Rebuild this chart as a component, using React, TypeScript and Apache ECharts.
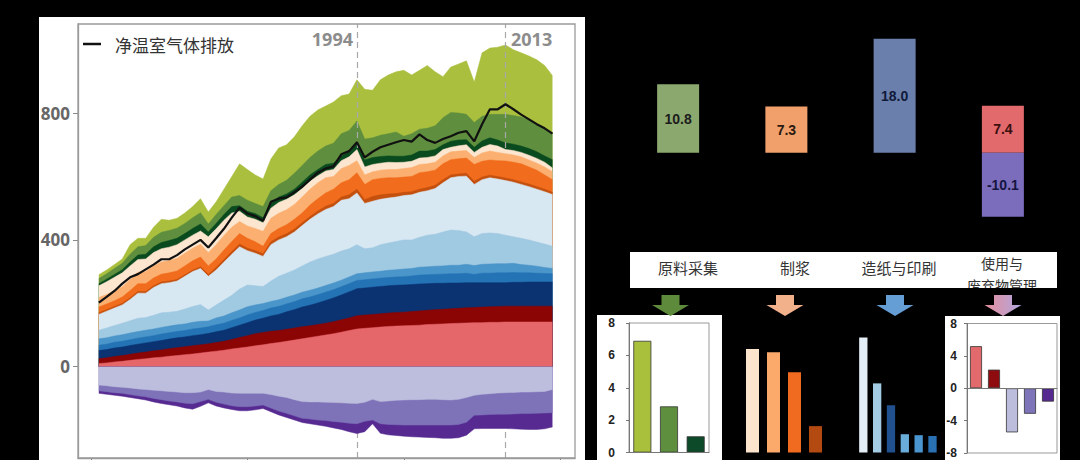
import React, { useEffect, useRef } from "react";
import * as echarts from "echarts";

const years = [1961,1962,1963,1964,1965,1966,1967,1968,1969,1970,1971,1972,1973,1974,1975,1976,1977,1978,1979,1980,1981,1982,1983,1984,1985,1986,1987,1988,1989,1990,1991,1992,1993,1994,1995,1996,1997,1998,1999,2000,2001,2002,2003,2004,2005,2006,2007,2008,2009,2010,2011,2012,2013,2014,2015,2016,2017,2018,2019];

// cumulative upper edge of each positive layer (bottom -> top)
const topSalmon = [10,12,15,17,20,23,25,28,30,33, 35,38,40,43,46,49,52,56,59,62, 66,69,73,76,80,84,88,92,96,100, 104,109,114,119,121,123,125,127,128,129, 130,131,133,134,135,136,137,138,139,139, 140,140,141,141,141,141,141,141,141];
const topDarkRed = [25,28,32,35,39,43,46,50,53,57, 60,63,66,69,72,76,80,86,92,98, 104,108,112,114,118,122,126,129,133,137, 142,148,154,161,163,165,167,169,171,172, 174,176,178,180,181,183,184,186,187,188, 189,190,191,191,191,191,191,191,191];
const topNavy = [51,54,59,62,67,71,75,79,83,87, 91,94,98,101,105,110,115,123,131,139, 147,153,160,165,173,180,188,194,201,209, 217,226,236,246,248,251,253,255,257,258, 259,261,262,263,263,264,264,265,265,265, 265,265,265,266,266,267,267,267,267];
const topBlue = [68,71,77,80,85,90,94,98,103,107, 111,114,119,122,126,132,137,146,154,163, 171,177,185,190,198,205,214,220,227,235, 243,252,262,272,274,277,279,281,283,284, 286,289,290,291,292,293,293,295,291,295, 295,296,296,297,296,296,295,294,293];
const topMidBlue = [88,91,97,101,106,111,115,119,124,128, 132,135,140,143,144,154,160,170,179,189, 195,199,206,211,219,226,235,241,248,256, 264,273,283,293,296,299,301,304,306,308, 310,314,315,317,318,320,320,323,319,323, 324,325,325,326,322,320,317,313,310];
const topLightBlue = [115,122,130,137,145,153,155,162,170,172, 175,182,190,196,179,195,210,225,245,258, 255,253,270,285,295,305,318,330,340,348, 355,365,372,385,372,375,385,390,395,400, 400,408,415,418,425,431,430,425,410,420, 422,420,415,410,405,400,393,387,380];
const topPaleBlue = [165,175,185,195,212,232,232,250,262,265, 270,285,300,310,285,305,330,355,378,366, 358,348,385,400,410,425,445,465,482,496, 505,525,530,548,515,522,528,532,535,540, 542,550,555,562,580,596,600,601,575,590, 596,592,587,582,575,568,560,552,543];
const topDarkOrange = [170,180,190,200,217,237,237,255,267,270, 275,290,305,315,291,313,338,363,387,374, 366,356,394,409,419,434,454,474,491,506, 515,535,542,560,527,537,542,545,546,550, 552,560,565,572,590,605,608,610,585,598, 604,600,595,590,583,576,568,560,550];
const topOrange = [188,198,208,220,240,262,262,280,292,296, 302,318,334,346,318,340,368,395,420,405, 394,380,420,436,448,465,485,510,530,548, 560,580,590,612,575,590,594,596,596,598, 600,612,615,620,640,653,656,658,638,648, 652,650,649,645,640,630,620,605,590];
const topLightOrange = [218,228,240,252,275,298,300,318,330,335, 342,358,374,386,360,385,414,440,458,444, 436,427,468,484,495,512,535,560,580,596, 600,625,635,650,605,615,620,622,622,625, 628,638,640,645,665,678,680,682,660,674, 680,676,672,668,662,652,642,630,615];
const topPeach = [255,268,282,296,318,338,340,360,372,377, 385,400,415,428,410,435,462,485,490,472, 465,454,500,518,528,542,562,585,602,617, 622,650,662,685,630,638,642,645,644,645, 648,658,660,665,685,692,697,700,676,692, 701,696,685,682,676,667,657,645,627];
const topDarkGreen = [262,276,291,306,330,352,355,378,392,398, 405,420,436,450,425,452,480,505,508,490, 483,470,518,535,545,560,582,605,622,638, 642,665,678,705,652,660,663,665,664,664, 668,680,680,685,700,711,715,716,692,712, 722,715,706,702,696,688,678,665,653];
const topGreen = [278,293,310,326,355,378,382,408,424,430, 437,452,470,486,450,480,508,535,540,525, 515,505,555,575,588,610,635,660,680,696, 705,735,745,775,718,722,730,735,740,727, 735,749,752,760,785,802,800,796,770,790, 796,796,796,792,788,778,765,752,738];
const topOlive = [290,305,322,340,385,405,405,440,465,462, 468,485,505,530,488,520,560,600,640,622, 605,592,655,690,700,725,760,790,810,822, 835,855,860,905,875,872,905,920,930,935, 920,935,950,930,915,945,955,965,898,990, 1005,1008,1015,1000,990,980,968,950,918];

// cumulative lower edge of each negative layer (0 -> down)
const lowLavender = [-58,-60,-63,-65,-67,-70,-72,-74,-76,-78, -80,-82,-82,-80,-72,-78,-80,-83,-84,-84, -84,-84,-88,-93,-97,-104,-110,-111,-111,-112, -113,-114,-115,-116,-112,-103,-110,-108,-106,-105, -104,-104,-103,-103,-104,-105,-103,-97,-90,-87, -85,-83,-82,-81,-80,-80,-79,-78,-72];
const lowPurple = [-76,-79,-82,-84,-88,-92,-95,-100,-104,-108, -111,-115,-117,-110,-103,-112,-118,-123,-126,-126, -124,-121,-130,-140,-147,-155,-163,-165,-168,-170, -173,-175,-178,-180,-172,-168,-180,-182,-183,-184, -184,-184,-184,-184,-184,-184,-182,-175,-153,-152, -151,-150,-150,-149,-148,-148,-147,-146,-145];
const lowDarkPurple = [-84,-87,-90,-93,-97,-101,-105,-111,-116,-120, -124,-130,-134,-125,-114,-124,-130,-135,-139,-139, -136,-132,-142,-152,-160,-168,-176,-180,-184,-188, -193,-198,-205,-211,-205,-180,-210,-215,-217,-219, -221,-222,-223,-224,-226,-226,-224,-216,-196,-195, -195,-195,-195,-196,-197,-198,-198,-196,-190];

const netEmission = [202,220,239,262,282,292,307,322,339,339, 352,370,385,400,376,405,435,470,502,483, 475,460,520,530,534,550,568,590,612,625, 632,670,680,708,660,678,692,700,708,715, 710,733,715,706,718,727,738,743,711,765, 812,812,828,812,795,780,765,752,735];

const yTicks = [0, 400, 800];
const xTicks = [1960, 1980, 2000, 2020];
const markYears = [1994, 2013];

// stage summary
const stages = ["原料采集", "制浆", "造纸与印刷", "使用与废弃物管理"];
const stageLabelLines = ["使用与", "废弃物管理"];
const stageValues = [10.8, 7.3, 18.0];
const usePositive = 7.4;
const useNegative = -10.1;

// sub panels
const rawValues = [6.9, 2.85, 1.0];
const pulpValues = [6.4, 6.2, 4.95, 1.63];
const paperValues = [7.1, 4.27, 2.92, 1.13, 1.07, 1.02];
const useValues = [5.2, 2.3, -5.45, -3.15, -1.65];

const rawColors = ["#a9c03d", "#5e8f3e", "#0d4a2a"];
const pulpColors = ["#fde4cc", "#fbaa6c", "#f06a1f", "#b34a12"];
const paperColors = ["#e3eef7", "#a3cbe3", "#20508e", "#6badd9", "#4a94cf", "#2a71b4"];
const useColors = ["#e26a6c", "#8e0c0f", "#bcbddc", "#7e74ba", "#55298f"];

const positiveLayers: [number[], string][] = [
  [topOlive, "#aabf3e"],
  [topGreen, "#5f8f3e"],
  [topDarkGreen, "#0a4a1f"],
  [topPeach, "#fde6d0"],
  [topLightOrange, "#fbb071"],
  [topOrange, "#f16c1c"],
  [topDarkOrange, "#c4500f"],
  [topPaleBlue, "#d8e8f2"],
  [topLightBlue, "#a0c9e2"],
  [topMidBlue, "#4a95c9"],
  [topBlue, "#2473b5"],
  [topNavy, "#0b3271"],
  [topDarkRed, "#8c0505"],
  [topSalmon, "#e6676a"],
];
const negativeLayers: [number[], string][] = [
  [lowDarkPurple, "#562a91"],
  [lowPurple, "#7e72b9"],
  [lowLavender, "#bdbedd"],
];

function arrow(cx: number, fill: any) {
  return {
    type: "polygon",
    z: 5,
    silent: true,
    shape: {
      points: [
        [cx - 9, 295], [cx + 9, 295], [cx + 9, 305], [cx + 18.5, 305],
        [cx, 316], [cx - 18.5, 305], [cx - 9, 305],
      ],
    },
    style: { fill },
  };
}

function txt(text: string, x: number, y: number, font: string, fill: string, align = "center", z = 20) {
  const style: any = { text, x, y, font, fill, textAlign: align, align, textVerticalAlign: "middle", verticalAlign: "middle" };
  return { type: "text", z, silent: true, style };
}

export default function App() {
  const ref = useRef<HTMLDivElement>(null);
  useEffect(() => {
    const chart = echarts.init(ref.current!, null, { renderer: "svg", width: 1080, height: 460 });

    const mainSeries: any[] = [];
    let z = 2;
    [...positiveLayers, ...negativeLayers].forEach(([arr, color]) => {
      mainSeries.push({
        type: "line",
        xAxisIndex: 0,
        yAxisIndex: 0,
        data: years.map((y, i) => [y, arr[i]]),
        symbol: "none",
        silent: true,
        z: z++,
        lineStyle: { width: 0.5, color },
        areaStyle: { color, opacity: 1 },
      });
    });
    mainSeries.push({
      type: "line",
      xAxisIndex: 0,
      yAxisIndex: 0,
      data: years.map((y, i) => [y, netEmission[i]]),
      symbol: "none",
      silent: true,
      z: 40,
      lineStyle: { width: 2.2, color: "#111" },
      markLine: {
        silent: true,
        symbol: "none",
        label: { show: false },
        lineStyle: { type: [6, 4], color: "#a8a8a8", width: 1.2 },
        data: markYears.map((y) => ({ xAxis: y })),
      },
    });

    const panelLabel = { color: "#222", fontWeight: "bold", fontSize: 12, fontFamily: "Liberation Sans" };
    const fmt = (p: any) => Number(p.value).toFixed(1);

    const option: any = {
      animation: false,
      backgroundColor: "transparent",
      grid: [
        { left: 78, top: 24, width: 497, height: 434 },
        { left: 624, top: 26.1, width: 433, height: 202.6 },
        { left: 629, top: 323, width: 80, height: 129.5 },
        { left: 742, top: 323, width: 84, height: 129.5 },
        { left: 856.4, top: 323, width: 83, height: 129.5 },
        { left: 967, top: 323.5, width: 90, height: 129.5 },
      ],
      xAxis: [
        {
          gridIndex: 0, type: "value", min: 1958.34, max: 2021.88, z: 10,
          axisLine: { show: true, onZero: false, lineStyle: { color: "#9a9a9a", width: 1.3 } },
          axisTick: { show: true, customValues: xTicks, length: 5, lineStyle: { color: "#888" } },
          axisLabel: { show: false }, splitLine: { show: false },
        },
        { gridIndex: 1, type: "category", data: stages, show: false },
        {
          gridIndex: 2, type: "category", data: rawValues.map((_, i) => String(i + 1)), z: 10,
          axisLine: { lineStyle: { color: "#777" } }, axisTick: { show: false }, axisLabel: { show: false },
        },
        { gridIndex: 3, type: "category", data: pulpValues.map((_, i) => String(i + 1)), show: false },
        { gridIndex: 4, type: "category", data: paperValues.map((_, i) => String(i + 1)), show: false },
        {
          gridIndex: 5, type: "category", data: useValues.map((_, i) => String(i + 1)), z: 10,
          axisLine: { onZero: true, lineStyle: { color: "#777" } }, axisTick: { show: false }, axisLabel: { show: false },
        },
      ],
      yAxis: [
        {
          gridIndex: 0, type: "value", min: -288, max: 1081, z: 10,
          axisLine: { show: true, onZero: false, lineStyle: { color: "#9a9a9a", width: 1.3 } },
          axisTick: { show: true, customValues: yTicks, length: 5, lineStyle: { color: "#888" } },
          axisLabel: { customValues: yTicks, color: "#666", fontWeight: "bold", fontSize: 17, fontFamily: "Open Sans", margin: 8 },
          splitLine: { show: false },
        },
        { gridIndex: 1, type: "value", min: -12, max: 20, show: false },
        {
          gridIndex: 2, type: "value", min: 0, max: 8, interval: 2, z: 10,
          axisLine: { show: true, lineStyle: { color: "#777" } },
          axisTick: { show: true, length: 3, lineStyle: { color: "#777" } },
          axisLabel: { ...panelLabel, margin: 14 }, splitLine: { show: false },
        },
        { gridIndex: 3, type: "value", min: 0, max: 8, show: false },
        { gridIndex: 4, type: "value", min: 0, max: 8, show: false },
        {
          gridIndex: 5, type: "value", min: -8, max: 8, interval: 4, z: 10,
          axisLine: { show: true, lineStyle: { color: "#777" } },
          axisTick: { show: true, length: 3, lineStyle: { color: "#777" } },
          axisLabel: { ...panelLabel, margin: 10 }, splitLine: { show: false },
        },
      ],
      series: [
        ...mainSeries,
        {
          type: "bar", xAxisIndex: 1, yAxisIndex: 1, stack: "stage", barWidth: 42, silent: true,
          data: [
            { value: stageValues[0], itemStyle: { color: "#8ba86f" }, label: { color: "#1c1c1c" } },
            { value: stageValues[1], itemStyle: { color: "#f1a06b" }, label: { color: "#2a1a10" } },
            { value: stageValues[2], itemStyle: { color: "#6a7fab" }, label: { color: "#101a3a" } },
            "-",
          ],
          label: { show: true, position: "inside", fontWeight: "bold", fontSize: 14, fontFamily: "Liberation Sans", formatter: fmt },
        },
        {
          type: "bar", xAxisIndex: 1, yAxisIndex: 1, stack: "stage", barWidth: 42, silent: true,
          data: ["-", "-", "-", usePositive],
          itemStyle: { color: "#e2696c" },
          label: { show: true, position: "inside", color: "#3a0f0f", fontWeight: "bold", fontSize: 14, fontFamily: "Liberation Sans", formatter: fmt },
        },
        {
          type: "bar", xAxisIndex: 1, yAxisIndex: 1, stack: "stage", barWidth: 42, silent: true,
          data: ["-", "-", "-", useNegative],
          itemStyle: { color: "#7b6cbc" },
          label: { show: true, position: "inside", color: "#151540", fontWeight: "bold", fontSize: 14, fontFamily: "Liberation Sans", formatter: fmt },
        },
        {
          type: "bar", xAxisIndex: 2, yAxisIndex: 2, barWidth: 18, silent: true,
          data: rawValues.map((v, i) => ({ value: v, itemStyle: { color: rawColors[i] } })),
          itemStyle: { borderColor: "#333", borderWidth: 0.8 },
        },
        {
          type: "bar", xAxisIndex: 3, yAxisIndex: 3, barWidth: 13, silent: true,
          data: pulpValues.map((v, i) => ({ value: v, itemStyle: { color: pulpColors[i] } })),
        },
        {
          type: "bar", xAxisIndex: 4, yAxisIndex: 4, barWidth: 8.3, silent: true,
          data: paperValues.map((v, i) => ({ value: v, itemStyle: { color: paperColors[i] } })),
        },
        {
          type: "bar", xAxisIndex: 5, yAxisIndex: 5, barWidth: 12, silent: true,
          data: useValues.map((v, i) => ({ value: v, itemStyle: { color: useColors[i] } })),
          itemStyle: { borderColor: "#333", borderWidth: 0.8 },
        },
      ],
      graphic: [
        { type: "rect", z: 0, silent: true, shape: { x: 39, y: 17, width: 546, height: 450 }, style: { fill: "#fff" } },
        { type: "rect", z: 100, silent: true, shape: { x: 78, y: 24, width: 497, height: 434 }, style: { fill: "none", stroke: "#9a9a9a", lineWidth: 1.3 } },
        { type: "line", z: 50, silent: true, shape: { x1: 83, y1: 44, x2: 101, y2: 44 }, style: { stroke: "#111", lineWidth: 2.5 } },
        txt("净温室气体排放", 115, 44, '17px "Noto Sans CJK SC"', "#333", "left", 50),
        txt("1994", 353, 39, 'bold 18px "Open Sans"', "#8c8c8c", "right", 50),
        txt("2013", 511, 39, 'bold 18px "Open Sans"', "#8c8c8c", "left", 50),

        { type: "rect", z: 0, silent: true, shape: { x: 630, y: 252, width: 427, height: 36 }, style: { fill: "#fff" } },
        txt(stages[0], 688, 267, '15px "Noto Sans CJK SC"', "#333", "center", 20),
        txt(stages[1], 795, 267, '15px "Noto Sans CJK SC"', "#333", "center", 20),
        txt(stages[2], 899, 267, '15px "Noto Sans CJK SC"', "#333", "center", 20),
        txt(stageLabelLines[0], 1002, 263, '14px "Noto Sans CJK SC"', "#333", "center", 20),
        txt(stageLabelLines[1], 1002, 285, '14px "Noto Sans CJK SC"', "#333", "center", 20),
        { type: "rect", z: 30, silent: true, shape: { x: 625, y: 288, width: 440, height: 6 }, style: { fill: "#000" } },

        arrow(670.5, "#5e8b3b"),
        arrow(785, "#f2b08b"),
        arrow(895, "#659dd5"),
        arrow(1003, new echarts.graphic.LinearGradient(0, 0, 1, 0, [
          { offset: 0, color: "#e88f9c" },
          { offset: 1, color: "#b0a6de" },
        ])),

        { type: "rect", z: 0, silent: true, shape: { x: 597, y: 315, width: 125, height: 150 }, style: { fill: "#fff" } },
        { type: "rect", z: 1, silent: true, shape: { x: 629, y: 323, width: 80, height: 129.5 }, style: { fill: "none", stroke: "#999", lineWidth: 1 } },
        { type: "rect", z: 0, silent: true, shape: { x: 945, y: 316, width: 115, height: 150 }, style: { fill: "#fff" } },
        { type: "rect", z: 1, silent: true, shape: { x: 967, y: 323.5, width: 90, height: 129.5 }, style: { fill: "none", stroke: "#999", lineWidth: 1 } },
      ],
    };

    chart.setOption(option);
    return () => chart.dispose();
  }, []);

  return (
    <div
      ref={ref}
      style={{ position: "fixed", left: 0, top: 0, width: 1080, height: 460, background: "#000" }}
    />
  );
}
